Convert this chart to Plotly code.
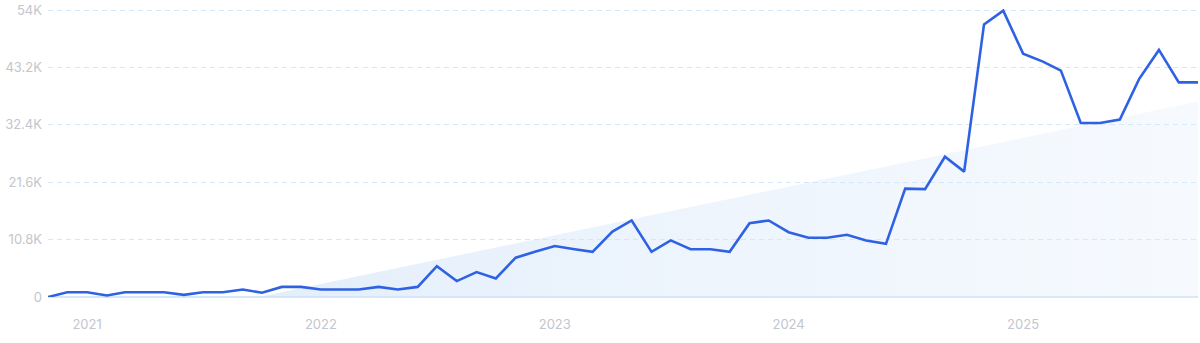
import plotly.graph_objects as go
import pandas as pd

# Monthly data, Nov 2020 .. Oct 2025
dates = pd.date_range("2020-11-01", periods=60, freq="MS")
values = [
    0, 900, 900, 300, 900, 900, 900, 400, 900, 900, 1400, 800,
    1900, 1900, 1400, 1400, 1400, 1900, 1400, 1900, 5800, 3000, 4700, 3500,
    7400, 8500, 9600, 9000, 8500, 12300, 14400, 8500, 10650, 9000, 9000, 8500,
    13900, 14400, 12200, 11150, 11150, 11700, 10650, 10000, 20400, 20300, 26400, 23600,
    51300, 53900, 45800, 44300, 42600, 32750, 32750, 33400, 41000, 46500, 40400, 40400,
]

# Trend area (linear)
trend_dates = ["2021-09-25", "2025-10-01"]
trend_values = [0, 36800]

y_ticks = [0, 10800, 21600, 32400, 43200, 54000]
y_tick_labels = ["0", "10.8K", "21.6K", "32.4K", "43.2K", "54K"]
x_ticks = ["2021-01-01", "2022-01-01", "2023-01-01", "2024-01-01", "2025-01-01"]
x_tick_labels = ["2021", "2022", "2023", "2024", "2025"]

fig = go.Figure()

fig.add_trace(go.Scatter(
    x=trend_dates, y=trend_values, mode="lines",
    line=dict(width=0, color="rgba(0,0,0,0)"),
    fill="tozeroy",
    fillgradient=dict(
        type="horizontal",
        colorscale=[[0, "rgba(205,225,248,0.55)"], [1, "rgba(225,237,252,0.3)"]],
    ),
    hoverinfo="skip", showlegend=False,
))

fig.add_trace(go.Scatter(
    x=dates, y=values, mode="lines",
    line=dict(color="#2f62e3", width=2.6),
    showlegend=False,
))

fig.update_layout(
    width=1200, height=343,
    margin=dict(l=48, r=2, t=7, b=46),
    paper_bgcolor="white", plot_bgcolor="white",
    font=dict(family="Inter, Roboto, sans-serif", size=13, color="#c3c6cd"),
)

fig.update_xaxes(
    range=["2020-11-01", "2025-10-01"],
    tickvals=x_ticks, ticktext=x_tick_labels,
    showgrid=False, zeroline=False, showline=False,
    ticks="", ticklabelstandoff=18,
    tickfont=dict(size=13, color="#c3c6cd"),
)

fig.update_yaxes(
    range=[0, 54200],
    tickvals=y_ticks, ticktext=y_tick_labels,
    showgrid=True, gridcolor="#d2e7fb", gridwidth=1, griddash="5px,4px",
    zeroline=True, zerolinecolor="#d5e8fa", zerolinewidth=2,
    showline=False, ticks="", ticklabelstandoff=5,
    ticklabeloverflow="allow",
    tickfont=dict(size=13, color="#c3c6cd"),
)

fig.write_html("out.html")
